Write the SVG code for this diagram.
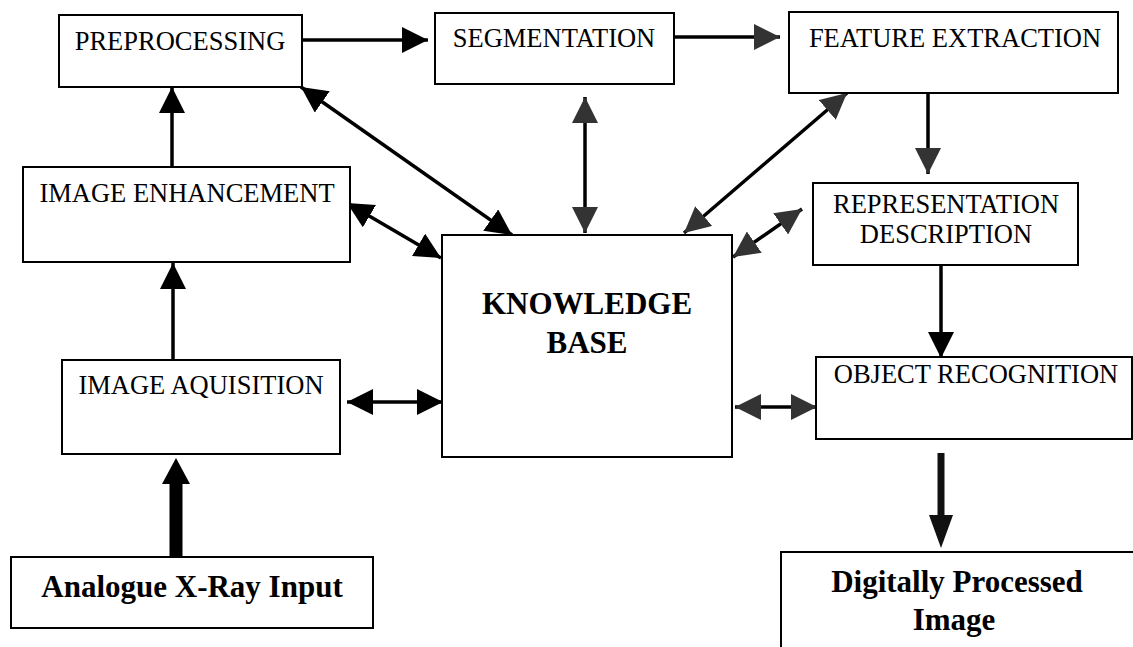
<svg xmlns="http://www.w3.org/2000/svg" width="1133" height="647" viewBox="0 0 1133 647">
<style>
  .box { fill: #fff; stroke: #000; stroke-width: 2; }
  .t { font-family: "Liberation Serif", "Times New Roman", serif; font-size: 26.5px; fill: #000; text-anchor: middle; }
  .b { font-family: "Liberation Serif", "Times New Roman", serif; font-size: 31px; font-weight: bold; fill: #000; text-anchor: middle; }
  .ln { stroke: #000; stroke-width: 3.5; fill: none; }
</style>
<defs>
  <marker id="ah" viewBox="0 0 10 10" refX="10" refY="5" markerUnits="userSpaceOnUse" markerWidth="26" markerHeight="26" preserveAspectRatio="none" orient="auto-start-reverse">
    <path d="M0,0 L10,5 L0,10 Z" fill="#000"/>
  </marker>
  <marker id="ag" viewBox="0 0 10 10" refX="10" refY="5" markerUnits="userSpaceOnUse" markerWidth="26" markerHeight="26" preserveAspectRatio="none" orient="auto-start-reverse">
    <path d="M0,0 L10,5 L0,10 Z" fill="#333"/>
  </marker>
</defs>

<g id="connectors">
  <!-- main flow -->
  <line class="ln" x1="302" y1="40" x2="428" y2="40" marker-end="url(#ah)"/>
  <line class="ln" x1="674" y1="37" x2="780" y2="37" marker-end="url(#ag)"/>
  <line class="ln" x1="928" y1="93" x2="928" y2="174" marker-end="url(#ag)"/>
  <line class="ln" x1="941" y1="265" x2="941" y2="358" marker-end="url(#ah)"/>
  <line x1="941" y1="453" x2="941" y2="522" stroke="#111" stroke-width="7"/>
  <polygon points="929,515 953,515 941,548" fill="#111"/>
  <line class="ln" x1="173" y1="360" x2="173" y2="263" marker-end="url(#ah)"/>
  <line class="ln" x1="172" y1="167" x2="172" y2="87" marker-end="url(#ah)"/>
  <line x1="176" y1="557" x2="176" y2="480" stroke="#000" stroke-width="13"/>
  <polygon points="162,484 190,484 176,458" fill="#000"/>
  <!-- knowledge base links -->
  <line class="ln" x1="301" y1="87" x2="512" y2="235" marker-start="url(#ah)" marker-end="url(#ah)"/>
  <line class="ln" x1="347" y1="203" x2="441" y2="258" marker-start="url(#ah)" marker-end="url(#ah)"/>
  <line class="ln" x1="347" y1="402" x2="443" y2="402" marker-start="url(#ah)" marker-end="url(#ah)"/>
  <line class="ln" x1="585" y1="97" x2="585" y2="233" marker-start="url(#ag)" marker-end="url(#ag)"/>
  <line class="ln" x1="847" y1="93" x2="684" y2="233" marker-start="url(#ag)" marker-end="url(#ag)"/>
  <line class="ln" x1="802" y1="209" x2="733" y2="257" marker-start="url(#ag)" marker-end="url(#ag)"/>
  <line class="ln" x1="735" y1="407" x2="817" y2="407" marker-start="url(#ag)" marker-end="url(#ag)"/>
</g>

<g id="preprocessing">
  <rect class="box" x="59" y="15" width="243" height="72"/>
  <text class="t" x="180" y="50">PREPROCESSING</text>
</g>
<g id="segmentation">
  <rect class="box" x="435" y="13" width="239" height="71"/>
  <text class="t" x="554" y="47">SEGMENTATION</text>
</g>
<g id="feature-extraction">
  <rect class="box" x="789" y="12" width="329" height="81"/>
  <text class="t" x="955" y="47">FEATURE EXTRACTION</text>
</g>
<g id="image-enhancement">
  <rect class="box" x="23" y="167" width="327" height="95"/>
  <text class="t" x="187" y="202">IMAGE ENHANCEMENT</text>
</g>
<g id="representation-description">
  <rect class="box" x="813" y="183" width="265" height="82"/>
  <text class="t" x="946" y="213">REPRESENTATION</text>
  <text class="t" x="946" y="243">DESCRIPTION</text>
</g>
<g id="knowledge-base">
  <rect class="box" x="442" y="235" width="290" height="222"/>
  <text class="b" x="587" y="314">KNOWLEDGE</text>
  <text class="b" x="587" y="353">BASE</text>
</g>
<g id="image-aquisition">
  <rect class="box" x="62" y="360" width="278" height="94"/>
  <text class="t" x="201" y="394">IMAGE AQUISITION</text>
</g>
<g id="object-recognition">
  <rect class="box" x="816" y="357" width="316" height="82"/>
  <text class="t" x="976" y="383">OBJECT RECOGNITION</text>
</g>
<g id="analogue-input">
  <rect class="box" x="11" y="557" width="362" height="71"/>
  <text class="b" x="192" y="597">Analogue X-Ray Input</text>
</g>
<g id="digitally-processed">
  <rect class="box" x="781" y="552" width="360" height="110"/>
  <text class="b" x="957" y="592">Digitally Processed</text>
  <text class="b" x="954" y="630">Image</text>
</g>
</svg>
